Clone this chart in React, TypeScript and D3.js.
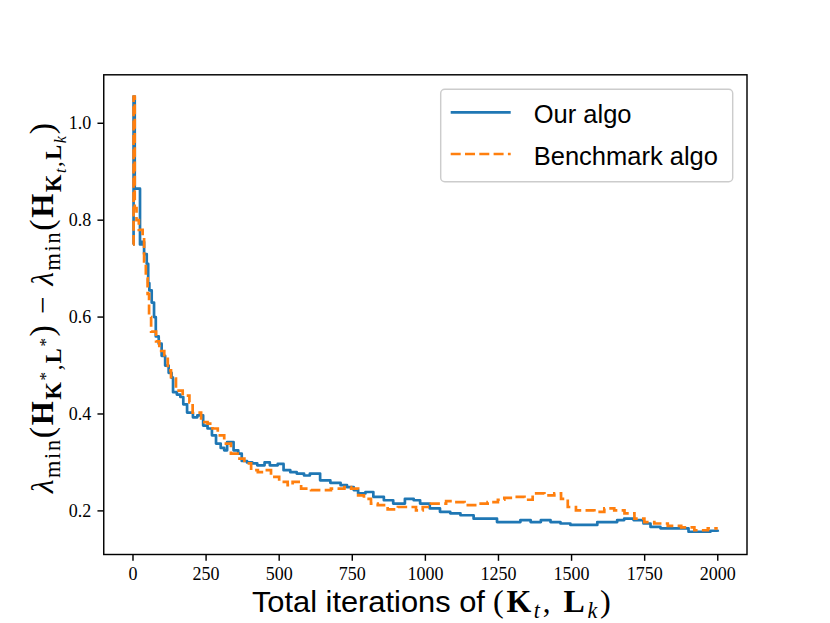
import React from "react";
import * as d3 from "d3";

const ourIters = [0, 2, 6, 24, 30, 38, 47, 52, 56, 64, 72, 78, 88, 98, 110, 122, 132, 137, 150, 162, 172, 185, 205, 220, 240, 255, 270, 284, 300, 312, 322, 344, 360, 372, 390, 408, 425, 450, 468, 495, 515, 538, 560, 585, 605, 628, 640, 675, 710, 732, 755, 770, 795, 822, 858, 890, 915, 930, 960, 982, 1015, 1050, 1085, 1120, 1165, 1200, 1245, 1290, 1325, 1360, 1395, 1428, 1462, 1496, 1542, 1588, 1622, 1656, 1680, 1712, 1746, 1770, 1804, 1850, 1900, 1975, 2000];
const ourVals = [0.75, 1.055, 0.865, 0.75, 0.755, 0.73, 0.71, 0.67, 0.655, 0.63, 0.6, 0.56, 0.545, 0.52, 0.5, 0.485, 0.475, 0.445, 0.44, 0.435, 0.42, 0.403, 0.393, 0.397, 0.376, 0.37, 0.356, 0.339, 0.33, 0.325, 0.342, 0.325, 0.318, 0.303, 0.3, 0.298, 0.294, 0.3, 0.294, 0.297, 0.284, 0.28, 0.277, 0.273, 0.277, 0.277, 0.263, 0.258, 0.253, 0.249, 0.243, 0.236, 0.239, 0.229, 0.222, 0.215, 0.215, 0.225, 0.222, 0.215, 0.205, 0.198, 0.195, 0.191, 0.184, 0.184, 0.177, 0.177, 0.181, 0.177, 0.181, 0.177, 0.174, 0.171, 0.171, 0.177, 0.177, 0.181, 0.184, 0.181, 0.174, 0.167, 0.164, 0.164, 0.157, 0.159, 0.157];

const benchIters = [0, 2, 6, 12, 20, 33, 38, 44, 50, 55, 62, 79, 90, 107, 119, 130, 147, 170, 193, 204, 233, 255, 272, 290, 312, 335, 358, 381, 404, 427, 449, 472, 500, 529, 546, 575, 609, 643, 677, 700, 723, 746, 770, 790, 814, 837, 871, 906, 934, 968, 991, 1019, 1042, 1071, 1099, 1134, 1179, 1213, 1248, 1270, 1304, 1339, 1367, 1407, 1441, 1464, 1487, 1515, 1578, 1612, 1646, 1681, 1715, 1749, 1783, 1829, 1875, 1920, 1966, 2000];
const benchVals = [0.75, 1.055, 0.825, 0.8, 0.78, 0.766, 0.715, 0.68, 0.648, 0.6, 0.57, 0.55, 0.53, 0.514, 0.49, 0.473, 0.448, 0.438, 0.424, 0.403, 0.383, 0.38, 0.37, 0.356, 0.339, 0.318, 0.308, 0.298, 0.284, 0.28, 0.284, 0.27, 0.26, 0.253, 0.26, 0.246, 0.243, 0.243, 0.246, 0.246, 0.249, 0.246, 0.232, 0.225, 0.215, 0.212, 0.203, 0.208, 0.208, 0.201, 0.208, 0.215, 0.215, 0.22, 0.218, 0.212, 0.215, 0.218, 0.223, 0.227, 0.229, 0.223, 0.236, 0.232, 0.236, 0.225, 0.208, 0.201, 0.198, 0.205, 0.201, 0.195, 0.184, 0.177, 0.174, 0.169, 0.166, 0.16, 0.164, 0.164];

const xTicks = [0, 250, 500, 750, 1000, 1250, 1500, 1750, 2000];
const yTicks = [0.2, 0.4, 0.6, 0.8, 1.0];
const seriesNames = ["Our algo", "Benchmark algo"];
const seriesColors = ["#1f77b4", "#ff7f0e"];

const W = 830;
const H = 623;
const L = 103.75, R = 747, T = 74.8, B = 554.5;
const SERIF = "'Liberation Serif', 'DejaVu Serif', serif";
const SANS = "'Liberation Sans', 'DejaVu Sans', sans-serif";

type Seg = { t: string; size?: number; bold?: boolean; italic?: boolean; shift?: number; serif?: boolean };

function RichText({ segs, base }: { segs: Seg[]; base: number }) {
  let prev = 0;
  return (
    <>
      {segs.map((s, i) => {
        const sh = (s.shift ?? 0) * base;
        const dy = sh - prev;
        prev = sh;
        return (
          <tspan
            key={i}
            dy={dy}
            fontSize={(s.size ?? 1) * base}
            fontWeight={s.bold ? "bold" : "normal"}
            fontStyle={s.italic ? "italic" : "normal"}
            fontFamily={s.serif === false ? SANS : SERIF}
          >
            {s.t}
          </tspan>
        );
      })}
    </>
  );
}

export default function App() {
  const x = d3.scaleLinear().domain([-100, 2100]).range([L, R]);
  const y = d3.scaleLinear().domain([0.11, 1.1]).range([B, T]);
  const line = d3
    .line<[number, number]>()
    .x((d) => x(d[0]))
    .y((d) => y(d[1]))
    .curve(d3.curveStepAfter);
  const ourPts = ourIters.map((it, i) => [it, ourVals[i]] as [number, number]);
  const benchPts = benchIters.map((it, i) => [it, benchVals[i]] as [number, number]);

  const tickLen = 6.3;
  const pad = 6.3;

  const xMath: Seg[] = [
    { t: "(", size: 1.1 },
    { t: "K", bold: true, size: 1.08 },
    { t: "t", italic: true, size: 0.75, shift: 0.22 },
    { t: ", ", size: 1.05 },
    { t: "L", bold: true, size: 1.08 },
    { t: "k", italic: true, size: 0.75, shift: 0.22 },
    { t: ")", size: 1.1 },
  ];

  const yLabel: Seg[] = [
    { t: "λ", italic: true },
    { t: "min", size: 0.72, shift: 0.22 },
    { t: "(", size: 1.1 },
    { t: "H", bold: true },
    { t: "K", bold: true, size: 0.72, shift: 0.25 },
    { t: "*", size: 0.55, shift: -0.08 },
    { t: ",", size: 0.72, shift: 0.25 },
    { t: "L", bold: true, size: 0.72, shift: 0.25 },
    { t: "*", size: 0.55, shift: -0.08 },
    { t: ")", size: 1.1 },
    { t: " − " },
    { t: "λ", italic: true },
    { t: "min", size: 0.72, shift: 0.22 },
    { t: "(", size: 1.1 },
    { t: "H", bold: true },
    { t: "K", bold: true, size: 0.72, shift: 0.25 },
    { t: "t", italic: true, size: 0.52, shift: 0.4 },
    { t: ",", size: 0.72, shift: 0.25 },
    { t: "L", bold: true, size: 0.72, shift: 0.25 },
    { t: "k", italic: true, size: 0.52, shift: 0.4 },
    { t: ")", size: 1.1 },
  ];

  const lg = { x: 440.7, y: 89.3, w: 292, h: 92.4 };
  const xlStart = (L + R) / 2 - 173.5;

  return (
    <svg
      width={W}
      height={H}
      viewBox={`0 0 ${W} ${H}`}
      style={{ position: "fixed", left: 0, top: 0, background: "#fff" }}
    >
      <rect x={0} y={0} width={W} height={H} fill="#fff" />
      <defs>
        <clipPath id="plotclip">
          <rect x={L} y={T} width={R - L} height={B - T} />
        </clipPath>
      </defs>
      <g clipPath="url(#plotclip)">
        <path d={line(ourPts) ?? ""} fill="none" stroke={seriesColors[0]} strokeWidth={2.7} strokeLinejoin="round" />
        <path
          d={line(benchPts) ?? ""}
          fill="none"
          stroke={seriesColors[1]}
          strokeWidth={2.7}
          strokeDasharray="10,4.3"
        />
      </g>
      <rect x={L} y={T} width={R - L} height={B - T} fill="none" stroke="#000" strokeWidth={1.44} />
      {xTicks.map((t) => (
        <g key={t}>
          <line x1={x(t)} x2={x(t)} y1={B} y2={B + tickLen} stroke="#000" strokeWidth={1.44} />
          <text x={x(t)} y={B + tickLen + pad + 13} textAnchor="middle" fontFamily={SERIF} fontSize={18}>
            {t}
          </text>
        </g>
      ))}
      {yTicks.map((t) => (
        <g key={t}>
          <line x1={L - tickLen} x2={L} y1={y(t)} y2={y(t)} stroke="#000" strokeWidth={1.44} />
          <text x={L - tickLen - pad} y={y(t) + 6} textAnchor="end" fontFamily={SERIF} fontSize={18}>
            {t.toFixed(1)}
          </text>
        </g>
      ))}
      <text x={xlStart} y={611.5} fontFamily={SANS} fontSize={29.5} textLength={233} lengthAdjust="spacingAndGlyphs">
        Total iterations of
      </text>
      <text x={xlStart + 241} y={611.5} fontFamily={SERIF} textLength={118} lengthAdjust="spacing">
        <RichText segs={xMath} base={29.5} />
      </text>
      <text
        transform={`translate(53.3, 308) rotate(-90)`}
        textAnchor="middle"
        fontFamily={SERIF}
        textLength={370}
        lengthAdjust="spacing"
      >
        <RichText segs={yLabel} base={31} />
      </text>
      <rect x={lg.x} y={lg.y} width={lg.w} height={lg.h} rx={4} fill="#fff" fillOpacity={0.8} stroke="#cccccc" strokeWidth={1.44} />
      {seriesNames.map((n, i) => {
        const cy = lg.y + 23 + i * 41.7;
        return (
          <g key={n}>
            <line
              x1={lg.x + 10}
              x2={lg.x + 70}
              y1={cy}
              y2={cy}
              stroke={seriesColors[i]}
              strokeWidth={2.7}
              strokeDasharray={i === 1 ? "10,4.3" : undefined}
            />
            <text x={lg.x + 93} y={cy + 11} fontFamily={SANS} fontSize={25.5} fill="#000">
              {n}
            </text>
          </g>
        );
      })}
    </svg>
  );
}
